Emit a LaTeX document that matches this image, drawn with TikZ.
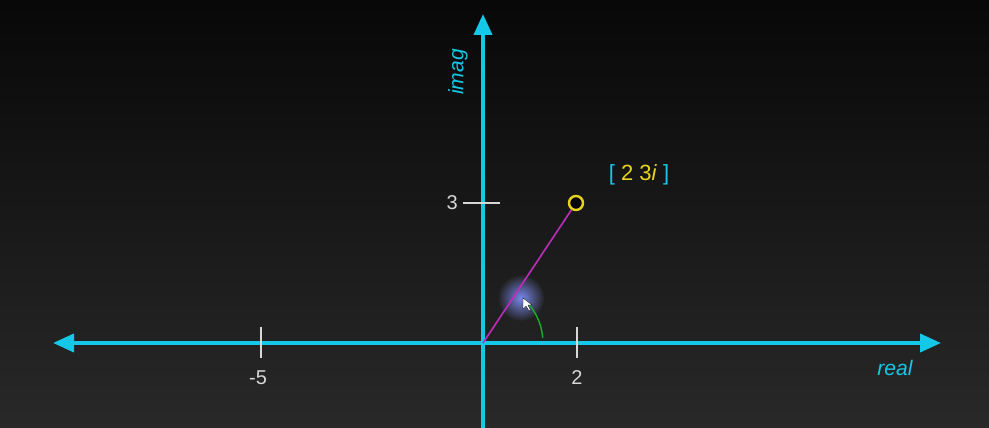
\documentclass[tikz,border=0pt]{standalone}
\usepackage{fontspec}
\setmainfont{Liberation Sans}
\usetikzlibrary{arrows.meta}
\definecolor{axiscyan}{RGB}{20,200,232}
\definecolor{ticgray}{RGB}{215,215,215}
\definecolor{ptyellow}{RGB}{232,212,30}
\definecolor{vecmag}{RGB}{190,45,190}
\definecolor{arcgreen}{RGB}{25,175,45}
\definecolor{glowblue}{RGB}{120,135,235}

\begin{document}
\begin{tikzpicture}[x=1pt, y=1pt, every node/.style={font=\fontsize{20}{22}\selectfont},
	axis/.style={axiscyan, line width=3.8pt, -{Triangle[length=21pt, width=18pt]}},
	tic/.style={ticgray, line width=1.8pt},
	ticlabel/.style={text=ticgray, inner sep=0pt}]
	\useasboundingbox (0,0) rectangle (989,428);
	\shade[top color=black!97, bottom color=black!84] (0,0) rectangle (989,428);
	% pointer glow
	\shade[inner color=glowblue, outer color=black!87] (521,130) circle (23);
	% axes
	\coordinate (O) at (483,85);
	\coordinate (xl) at (53,85);
	\coordinate (xr) at (941,85);
	\coordinate (yb) at (483,0);
	\coordinate (yt) at (483,414);
	\draw[axis] (O) -- (xr);
	\draw[axis] (O) -- (xl);
	\draw[axis] (yb) -- (yt);
	\node[text=axiscyan, font=\fontsize{21}{22}\selectfont\itshape] (re) at (895,60) {real};
	\node[text=axiscyan, font=\fontsize{21}{22}\selectfont\itshape, rotate=90] (im) at (458,356) {imag};
	% ticks
	\coordinate (t5a) at (261,101); \coordinate (t5b) at (261,70);
	\coordinate (t2a) at (577,101); \coordinate (t2b) at (577,70);
	\coordinate (t3a) at (463,225); \coordinate (t3b) at (500,225);
	\draw[tic] (t5a) -- (t5b);
	\draw[tic] (t2a) -- (t2b);
	\draw[tic] (t3a) -- (t3b);
	\node[ticlabel] (l5) at (258,50) {-5};
	\node[ticlabel] (l2) at (577,50) {2};
	\node[ticlabel, anchor=east] (l3) at (458,225) {3};
	% the number
	\node[circle, draw=ptyellow, fill=black, line width=2.4pt, minimum size=14pt, inner sep=0pt] (P) at (576,225) {};
	\draw[vecmag, line width=1.6pt] (O) -- (P);
	\node[font=\fontsize{22}{24}\selectfont] (val) at (639,253) {\textcolor{axiscyan}{[} \textcolor{ptyellow}{2 3\textit{i}} \textcolor{axiscyan}{]}};
	% angle
	\draw[arcgreen, line width=1.4pt] ([shift={(5:60)}]O) arc[start angle=5, end angle=48, radius=60];
	% pointer
	\fill[white, draw=black, line width=0.3pt] (523,130) -- (523,119) -- (526,122) -- (529,117) -- (530.5,118) -- (528,123) -- (532,123) -- cycle;
\end{tikzpicture}
\end{document}
